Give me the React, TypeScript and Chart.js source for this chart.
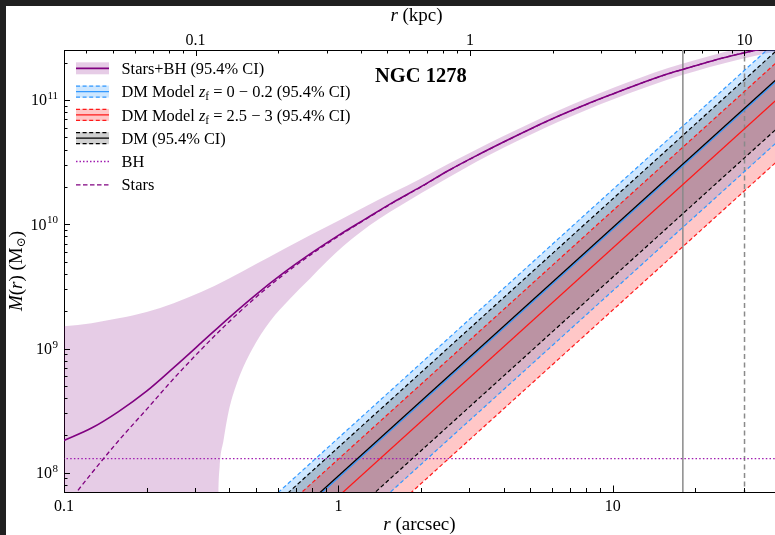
import React, { useEffect, useRef } from "react";
import { Chart, registerables } from "chart.js";

Chart.register(...registerables);

// ---------------- axis ranges & tick labels ----------------
const X_MIN = 0.1; // arcsec
const X_MAX = 39; // arcsec
const Y_MIN = 7.0e7; // Msun
const Y_MAX = 2.53e11; // Msun
const KPC_PER_ARCSEC = 0.3315;

const xTickLabels = ["0.1", "1", "10"];
const kpcTickLabels = ["0.1", "1", "10"];
const yTickExponents = [8, 9, 10, 11];

// ---------------- Stars+BH enclosed mass (Msun) ----------------
const starsBhRadii = [0.1, 0.126, 0.158, 0.2, 0.251, 0.316, 0.398, 0.501, 0.631, 0.794, 1, 1.26, 1.58, 2, 2.51, 3.16, 3.98, 5.01, 6.31, 7.94, 10, 12.6, 15.8, 20, 25.1, 31.6, 39.8];
const starsBhMass = [1.82e8, 2.29e8, 3.11e8, 4.54e8, 7.02e8, 1.11e9, 1.76e9, 2.72e9, 4.06e9, 5.83e9, 8.14e9, 1.11e10, 1.5e10, 2.01e10, 2.7e10, 3.54e10, 4.58e10, 5.86e10, 7.4e10, 9.17e10, 1.12e11, 1.36e11, 1.62e11, 1.89e11, 2.18e11, 2.46e11, 2.75e11];
const starsMass = [5.2e7, 9.9e7, 1.81e8, 3.24e8, 5.72e8, 9.8e8, 1.63e9, 2.59e9, 3.93e9, 5.7e9, 8.01e9, 1.1e10, 1.49e10, 2.0e10, 2.69e10, 3.53e10, 4.57e10, 5.85e10, 7.39e10, 9.16e10, 1.12e11, 1.36e11, 1.62e11, 1.89e11, 2.18e11, 2.46e11, 2.75e11];
const starsBhHi = [1.51e9, 1.6e9, 1.75e9, 1.97e9, 2.32e9, 2.85e9, 3.65e9, 4.79e9, 6.3e9, 8.23e9, 1.07e10, 1.4e10, 1.8e10, 2.34e10, 3.06e10, 3.97e10, 5.11e10, 6.52e10, 8.2e10, 1.02e11, 1.25e11, 1.51e11, 1.8e11, 2.1e11, 2.42e11, 2.73e11, 3.04e11];
const starsBhLoRadii = [0.1, 0.358, 0.362, 0.364, 0.3657, 0.369, 0.3814, 0.3977, 0.4266, 0.4839, 0.564, 0.665, 0.789, 0.907, 1.043, 1.2, 1.41, 1.68, 2.0, 2.51, 3.16, 3.98, 5.01, 6.31, 7.94, 10, 12.6, 15.8, 20, 25.1, 31.6, 39.8];
const starsBhLo = [1e5, 1e6, 1e7, 3.16e7, 7.0e7, 1.11e8, 1.83e8, 3.09e8, 5.25e8, 9.77e8, 1.66e9, 2.51e9, 3.67e9, 5.01e9, 6.68e9, 8.61e9, 1.11e10, 1.41e10, 1.78e10, 2.37e10, 3.16e10, 4.12e10, 5.27e10, 6.65e10, 8.26e10, 1.01e11, 1.22e11, 1.46e11, 1.71e11, 1.96e11, 2.22e11, 2.47e11];

// ---------------- black hole ----------------
const bhRadii = [0.05, 100];
const bhMass = [1.3e8, 1.3e8];

// ---------------- dark matter models (M ~ r^2) ----------------
const dmRadii = [0.3, 150];
const dmAllHi = [1.443e7, 3.607e12];
const dmAll = [8.5e6, 2.124e12];
const dmAllLo = [3.38e6, 8.46e11];
const dmLowZHi = [1.715e7, 4.29e12];
const dmLowZ = [8.21e6, 2.052e12];
const dmLowZLo = [2.63e6, 6.56e11];
const dmHighZHi = [1.16e7, 2.9e12];
const dmHighZ = [5.81e6, 1.453e12];
const dmHighZLo = [1.84e6, 4.59e11];

// ---------------- reference radii ----------------
const solidRefRadius = [18.0, 18.0];
const dashedRefRadius = [30.2, 30.2];
const refSpan = [1e7, 1e12];

// ---------------- styles ----------------
const FONT = '"Liberation Serif", "Times New Roman", serif';
const PURPLE = "#800080";
const PURPLE_FILL = "rgba(128,0,128,0.2)";
const BLUE = "#3399ff";
const BLUE_FILL = "rgba(51,153,255,0.24)";
const RED = "#ff1a1a";
const RED_FILL = "rgba(255,0,0,0.22)";
const BLACK = "#000000";
const GRAY_FILL = "rgba(0,0,0,0.18)";
const BH_COLOR = "#a01cb0";
const VLINE = "#8a8a8a";
const DASH = [4, 2.6];

const pts = (xs: number[], ys: number[]) => xs.map((x, i) => ({ x, y: ys[i] }));
const poly = (xs: number[], hi: number[], lo: number[]) => [...pts(xs, hi), ...pts(xs, lo).reverse()];

function labelFor(v: number, list: string[]) {
  const s = String(parseFloat(Number(v).toPrecision(6)));
  return list.includes(s) ? s : "";
}

function logTicks(min: number, max: number) {
  const out: { v: number; major: boolean }[] = [];
  const e0 = Math.floor(Math.log10(min));
  const e1 = Math.ceil(Math.log10(max));
  for (let e = e0; e <= e1; e++) {
    for (let m = 1; m <= 9; m++) {
      const v = m * Math.pow(10, e);
      if (v >= min * (1 - 1e-9) && v <= max * (1 + 1e-9)) out.push({ v, major: m === 1 });
    }
  }
  return out;
}

type Part = { t: string; f: string; dy?: number };
function drawRich(ctx: CanvasRenderingContext2D, parts: Part[], x: number, y: number, align: "left" | "center") {
  let w = 0;
  for (const p of parts) {
    ctx.font = p.f;
    w += ctx.measureText(p.t).width;
  }
  let cx = align === "center" ? x - w / 2 : x;
  ctx.textAlign = "left";
  ctx.textBaseline = "alphabetic";
  for (const p of parts) {
    ctx.font = p.f;
    ctx.fillText(p.t, cx, y + (p.dy || 0));
    cx += ctx.measureText(p.t).width;
  }
}

const decorPlugin = {
  id: "decor",
  afterDraw(chart: any) {
    const ctx: CanvasRenderingContext2D = chart.ctx;
    const ca = chart.chartArea;
    const xs = chart.scales.x;
    const xt = chart.scales.x2;
    const ys = chart.scales.y;
    ctx.save();
    // ---- inward tick marks ----
    ctx.strokeStyle = "#000";
    ctx.lineWidth = 1;
    ctx.beginPath();
    for (const t of logTicks(X_MIN, X_MAX)) {
      const px = Math.round(xs.getPixelForValue(t.v)) + 0.5;
      ctx.moveTo(px, ca.bottom);
      ctx.lineTo(px, ca.bottom - (t.major ? 6.5 : 4));
    }
    for (const t of logTicks(X_MIN * KPC_PER_ARCSEC, X_MAX * KPC_PER_ARCSEC)) {
      const px = Math.round(xt.getPixelForValue(t.v)) + 0.5;
      ctx.moveTo(px, ca.top);
      ctx.lineTo(px, ca.top + (t.major ? 6 : 3.5));
    }
    for (const t of logTicks(Y_MIN, Y_MAX)) {
      const py = Math.round(ys.getPixelForValue(t.v)) + 0.5;
      ctx.moveTo(ca.left, py);
      ctx.lineTo(ca.left + (t.major ? 6 : 3.5), py);
    }
    ctx.stroke();

    // ---- y tick labels 10^n ----
    ctx.fillStyle = "#000";
    for (const e of yTickExponents) {
      const py = ys.getPixelForValue(Math.pow(10, e));
      const right = ca.left - 6;
      ctx.font = `11px ${FONT}`;
      const we = ctx.measureText(String(e)).width;
      ctx.font = `16px ${FONT}`;
      const wb = ctx.measureText("10").width;
      ctx.textAlign = "left";
      ctx.textBaseline = "alphabetic";
      ctx.fillText("10", right - we - wb - 0.5, py + 5.3);
      ctx.font = `11px ${FONT}`;
      ctx.fillText(String(e), right - we, py - 1);
    }

    // ---- axis titles ----
    const R = `19px ${FONT}`;
    const I = `italic 19px ${FONT}`;
    drawRich(ctx, [{ t: "r", f: I }, { t: " (arcsec)", f: R }], (ca.left + ca.right) / 2, ca.bottom + 38, "center");
    drawRich(ctx, [{ t: "r", f: I }, { t: " (kpc)", f: R }], (ca.left + ca.right) / 2 - 3, ca.top - 29.5, "center");
    ctx.save();
    ctx.translate(ca.left - 42, (ca.top + ca.bottom) / 2);
    ctx.rotate(-Math.PI / 2);
    drawRich(
      ctx,
      [
        { t: "M", f: I },
        { t: "(", f: R },
        { t: "r", f: I },
        { t: ") (M", f: R },
        { t: "⊙", f: `12px ${FONT}, "DejaVu Serif"`, dy: 3 },
        { t: ")", f: R },
      ],
      0,
      0,
      "center"
    );
    ctx.restore();

    // ---- title ----
    ctx.font = `bold 20.5px ${FONT}`;
    ctx.textAlign = "left";
    ctx.textBaseline = "alphabetic";
    ctx.fillText("NGC 1278", ca.left + 311, ca.top + 32.3);

    // ---- legend ----
    const x0 = ca.left + 12;
    const x1 = ca.left + 45;
    const tx = ca.left + 57.5;
    const rowY = (i: number) => ca.top + 18.3 + i * 23.3;
    const F = `16.4px ${FONT}`;
    const FI = `italic 16.4px ${FONT}`;
    const FS = `11.5px ${FONT}`;
    const hline = (y: number, color: string, width: number, dash: number[]) => {
      ctx.save();
      ctx.strokeStyle = color;
      ctx.lineWidth = width;
      ctx.setLineDash(dash);
      ctx.beginPath();
      ctx.moveTo(x0, y);
      ctx.lineTo(x1, y);
      ctx.stroke();
      ctx.restore();
    };
    const band = (y: number, fillC: string, lineC: string, dashedEdges: boolean) => {
      ctx.fillStyle = fillC;
      ctx.fillRect(x0, y - 6, x1 - x0, 12);
      if (dashedEdges) {
        hline(y - 5.5, lineC, 1.2, DASH);
        hline(y + 5.5, lineC, 1.2, DASH);
      }
      hline(y, lineC, dashedEdges ? 1.3 : 1.8, []);
    };
    band(rowY(0), PURPLE_FILL, PURPLE, false);
    band(rowY(1), BLUE_FILL, BLUE, true);
    band(rowY(2), RED_FILL, RED, true);
    band(rowY(3), GRAY_FILL, BLACK, true);
    hline(rowY(4), BH_COLOR, 1.3, [1.5, 2]);
    hline(rowY(5), PURPLE, 1.3, [4.5, 2.5]);
    ctx.fillStyle = "#000";
    const by = (i: number) => rowY(i) + 5.6;
    drawRich(ctx, [{ t: "Stars+BH (95.4% CI)", f: F }], tx, by(0), "left");
    drawRich(
      ctx,
      [
        { t: "DM Model ", f: F },
        { t: "z", f: FI },
        { t: "f", f: FS, dy: 3 },
        { t: " = 0 \u2212 0.2 (95.4% CI)", f: F },
      ],
      tx,
      by(1),
      "left"
    );
    drawRich(
      ctx,
      [
        { t: "DM Model ", f: F },
        { t: "z", f: FI },
        { t: "f", f: FS, dy: 3 },
        { t: " = 2.5 \u2212 3 (95.4% CI)", f: F },
      ],
      tx,
      by(2),
      "left"
    );
    drawRich(ctx, [{ t: "DM (95.4% CI)", f: F }], tx, by(3), "left");
    drawRich(ctx, [{ t: "BH", f: F }], tx, by(4), "left");
    drawRich(ctx, [{ t: "Stars", f: F }], tx, by(5), "left");
    ctx.restore();
  },
};

function buildDatasets() {
  const smooth = { cubicInterpolationMode: "monotone", capBezierPoints: false };
  const list: any[] = [
    { label: "Stars+BH upper", data: pts(starsBhRadii, starsBhHi), fill: "+1", backgroundColor: PURPLE_FILL, borderColor: "transparent", borderWidth: 0, ...smooth },
    { label: "Stars+BH lower", data: pts(starsBhLoRadii, starsBhLo), fill: false, borderColor: "transparent", borderWidth: 0, ...smooth },
    { label: "DM zf 0-0.2 band", data: poly(dmRadii, dmLowZHi, dmLowZLo), fill: "shape", backgroundColor: BLUE_FILL, borderColor: "transparent", borderWidth: 0 },
    { label: "DM band", data: poly(dmRadii, dmAllHi, dmAllLo), fill: "shape", backgroundColor: GRAY_FILL, borderColor: "transparent", borderWidth: 0 },
    { label: "DM zf 2.5-3 band", data: poly(dmRadii, dmHighZHi, dmHighZLo), fill: "shape", backgroundColor: RED_FILL, borderColor: "transparent", borderWidth: 0 },
    { label: "ref solid", data: pts(solidRefRadius, refSpan), borderColor: VLINE, borderWidth: 1.5 },
    { label: "ref dashed", data: pts(dashedRefRadius, refSpan), borderColor: VLINE, borderWidth: 1.5, borderDash: [5, 3.5] },
    { label: "BH", data: pts(bhRadii, bhMass), borderColor: BH_COLOR, borderWidth: 1.4, borderDash: [1.5, 2.2] },
    { label: "Stars", data: pts(starsBhRadii, starsMass), borderColor: PURPLE, borderWidth: 1.3, borderDash: [4.5, 3], ...smooth },
    { label: "Stars+BH", data: pts(starsBhRadii, starsBhMass), borderColor: PURPLE, borderWidth: 1.6, ...smooth },
    { label: "DM zf 0-0.2 hi", data: pts(dmRadii, dmLowZHi), borderColor: BLUE, borderWidth: 1.2, borderDash: DASH },
    { label: "DM zf 0-0.2 lo", data: pts(dmRadii, dmLowZLo), borderColor: BLUE, borderWidth: 1.2, borderDash: DASH },
    { label: "DM zf 2.5-3 hi", data: pts(dmRadii, dmHighZHi), borderColor: RED, borderWidth: 1.2, borderDash: DASH },
    { label: "DM zf 2.5-3 lo", data: pts(dmRadii, dmHighZLo), borderColor: RED, borderWidth: 1.2, borderDash: DASH },
    { label: "DM hi", data: pts(dmRadii, dmAllHi), borderColor: BLACK, borderWidth: 1.2, borderDash: DASH },
    { label: "DM lo", data: pts(dmRadii, dmAllLo), borderColor: BLACK, borderWidth: 1.2, borderDash: DASH },
    { label: "DM zf 2.5-3", data: pts(dmRadii, dmHighZ), borderColor: RED, borderWidth: 1.3 },
    { label: "DM zf 0-0.2", data: pts(dmRadii, dmLowZ), borderColor: BLUE, borderWidth: 1.3 },
    { label: "DM", data: pts(dmRadii, dmAll), borderColor: BLACK, borderWidth: 1.3 },
  ];
  list.forEach((d, i) => {
    d.order = -i;
    d.pointRadius = 0;
    d.pointHoverRadius = 0;
    if (d.tension === undefined) d.tension = 0;
    if (d.fill === undefined) d.fill = false;
  });
  return list;
}

export default function App() {
  const ref = useRef<HTMLCanvasElement>(null);
  useEffect(() => {
    Chart.defaults.font.family = FONT;
    const tickFont = { family: FONT, size: 16 };
    const noSidePad = (s: any) => {
      s.paddingLeft = 0;
      s.paddingRight = 0;
    };
    const chart = new Chart(ref.current as HTMLCanvasElement, {
      type: "line",
      data: { datasets: buildDatasets() },
      options: {
        responsive: false,
        maintainAspectRatio: false,
        animation: false,
        events: [],
        layout: { padding: 0 },
        plugins: { legend: { display: false }, tooltip: { enabled: false }, filler: { propagate: false } },
        scales: {
          x: {
            type: "logarithmic",
            position: "bottom",
            min: X_MIN,
            max: X_MAX,
            grid: { display: false, drawTicks: false },
            border: { display: true, color: "#000", width: 1 },
            ticks: { autoSkip: false, maxRotation: 0, padding: 5, color: "#000", font: tickFont, callback: (v: any) => labelFor(Number(v), xTickLabels) },
            afterFit: (s: any) => {
              s.height = 43;
              noSidePad(s);
            },
          },
          x2: {
            type: "logarithmic",
            position: "top",
            min: X_MIN * KPC_PER_ARCSEC,
            max: X_MAX * KPC_PER_ARCSEC,
            grid: { display: false, drawTicks: false },
            border: { display: true, color: "#000", width: 1 },
            ticks: { autoSkip: false, maxRotation: 0, padding: 0, color: "#000", font: tickFont, callback: (v: any) => labelFor(Number(v), kpcTickLabels) },
            afterFit: (s: any) => {
              s.height = 44;
              noSidePad(s);
            },
          },
          y: {
            type: "logarithmic",
            position: "left",
            min: Y_MIN,
            max: Y_MAX,
            grid: { display: false, drawTicks: false },
            border: { display: true, color: "#000", width: 1 },
            ticks: { display: false },
            afterFit: (s: any) => {
              s.width = 58;
            },
          },
        },
      } as any,
      plugins: [decorPlugin as any],
    });
    return () => chart.destroy();
  }, []);
  return (
    <div style={{ position: "fixed", left: 0, top: 0, width: 775, height: 535, background: "#202020", overflow: "hidden" }}>
      <div style={{ position: "absolute", left: 6, top: 6, width: 769, height: 529, background: "#fff" }}>
        <canvas ref={ref} width={769} height={529} style={{ display: "block", width: 769, height: 529 }} />
      </div>
    </div>
  );
}
